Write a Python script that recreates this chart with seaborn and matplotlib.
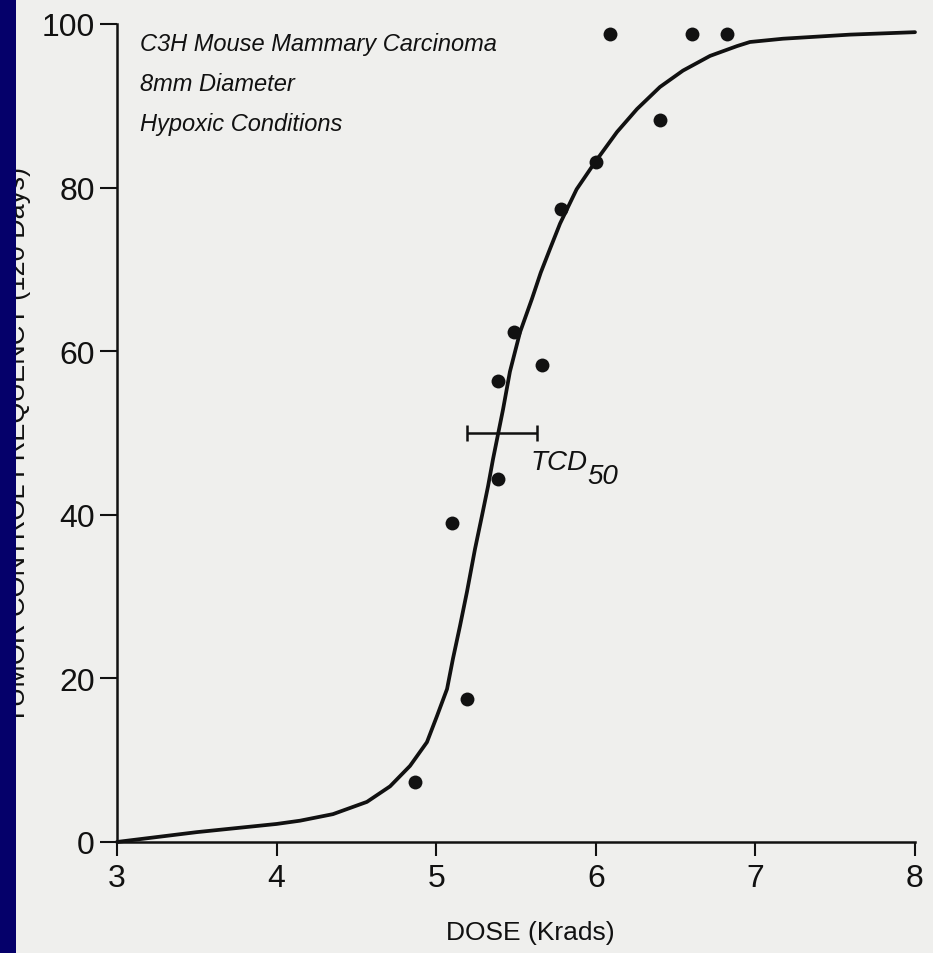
import numpy as np
import pandas as pd
import matplotlib
matplotlib.use("Agg")
import matplotlib.pyplot as plt
import seaborn as sns
from matplotlib.patches import Rectangle

# measured tumour control points (dose in krad, % controlled)
dose_pts = [4.87, 5.19, 5.10, 5.39, 5.39, 5.49, 5.66, 5.78, 6.00, 6.40, 6.09, 6.60, 6.82]
control_pts = [7.3, 17.5, 39.0, 44.4, 56.4, 62.3, 58.3, 77.4, 83.1, 88.3, 98.8, 98.8, 98.8]

# hand drawn fitted curve
curve_dose = [3.0, 3.5, 4.0, 4.147, 4.353, 4.566, 4.711, 4.836, 4.942, 5.005, 5.068,
              5.105, 5.149, 5.193, 5.243, 5.287, 5.325, 5.356, 5.387, 5.419, 5.462,
              5.525, 5.600, 5.655, 5.713, 5.776, 5.88, 5.995, 6.133, 6.258, 6.402,
              6.546, 6.716, 6.885, 6.966, 7.173, 7.593, 8.0]
curve_control = [0.0, 1.2, 2.2, 2.6, 3.4, 4.9, 6.8, 9.3, 12.2, 15.4, 18.7,
                 22.4, 26.4, 30.6, 35.8, 39.9, 43.5, 46.8, 49.8, 52.9, 57.5,
                 62.3, 66.4, 69.6, 72.5, 75.6, 79.8, 83.1, 86.8, 89.6, 92.3,
                 94.3, 96.1, 97.3, 97.8, 98.2, 98.7, 99.0]

# TCD50 with its confidence range
tcd50 = 50
tcd50_low = 5.19
tcd50_high = 5.63

x_ticks = [3, 4, 5, 6, 7, 8]
y_ticks = [0, 20, 40, 60, 80, 100]
info_lines = ["C3H Mouse Mammary Carcinoma", "8mm Diameter", "Hypoxic Conditions"]

paper = "#efefed"
ink = "#111111"

sns.set_style("ticks")
plt.rcParams['font.family'] = ['Liberation Sans', 'DejaVu Sans']

fig = plt.figure(figsize=(9.33, 9.54), dpi=100, facecolor=paper)
ax = fig.add_axes([0.1254, 0.1164, 0.8553, 0.8574])
ax.set_facecolor(paper)

curve_df = pd.DataFrame({"dose": curve_dose, "control": curve_control})
pts_df = pd.DataFrame({"dose": dose_pts, "control": control_pts})

sns.lineplot(data=curve_df, x="dose", y="control", ax=ax, color=ink,
             linewidth=2.7, sort=False, clip_on=False,
             solid_joinstyle="round", solid_capstyle="round")
sns.scatterplot(data=pts_df, x="dose", y="control", ax=ax, color=ink,
                s=100, edgecolor=ink, linewidth=0, clip_on=False, zorder=4)

ax.errorbar([(tcd50_low + tcd50_high) / 2], [tcd50],
            xerr=[[(tcd50_high - tcd50_low) / 2], [(tcd50_high - tcd50_low) / 2]],
            fmt="none", ecolor=ink, elinewidth=1.8, capsize=6, capthick=1.8)
ax.text(5.59, 46.5, "TCD", fontsize=20, style="italic", color=ink,
        ha="left", va="center")
ax.text(5.945, 44.8, "50", fontsize=20, style="italic", color=ink,
        ha="left", va="center")

for i, line in enumerate(info_lines):
    ax.text(3.145, 97.6 - i * 4.9, line, fontsize=17, style="italic", color=ink,
            ha="left", va="center")

ax.set_xlim(3, 8)
ax.set_ylim(0, 100)
ax.set_xticks(x_ticks)
ax.set_yticks(y_ticks)
ax.set_xticklabels([str(v) for v in x_ticks])
ax.set_yticklabels([str(v) for v in y_ticks])
ax.tick_params(axis="y", length=12, width=1.5, pad=4, labelsize=23, colors=ink)
ax.tick_params(axis="x", length=10, width=1.5, pad=5, labelsize=23, colors=ink)
sns.despine(ax=ax)
for side in ["left", "bottom"]:
    ax.spines[side].set_linewidth(1.8)
    ax.spines[side].set_color(ink)

ax.set_xlabel("DOSE (Krads)", fontsize=19, color=ink)
ax.xaxis.set_label_coords(0.518, -0.095)
ax.set_ylabel("")

# y label half hidden behind the slide's blue border
fig.text(0.033, 0.5335, "TUMOR CONTROL FREQUENCY (120 Days)", rotation=90,
         fontsize=19.5, color=ink, ha="right", va="center")
fig.patches.append(Rectangle((0, 0), 16 / 933, 1, transform=fig.transFigure,
                             facecolor="#05006a", edgecolor="none", zorder=10))

fig.savefig("out.png", dpi=100, facecolor=paper)
